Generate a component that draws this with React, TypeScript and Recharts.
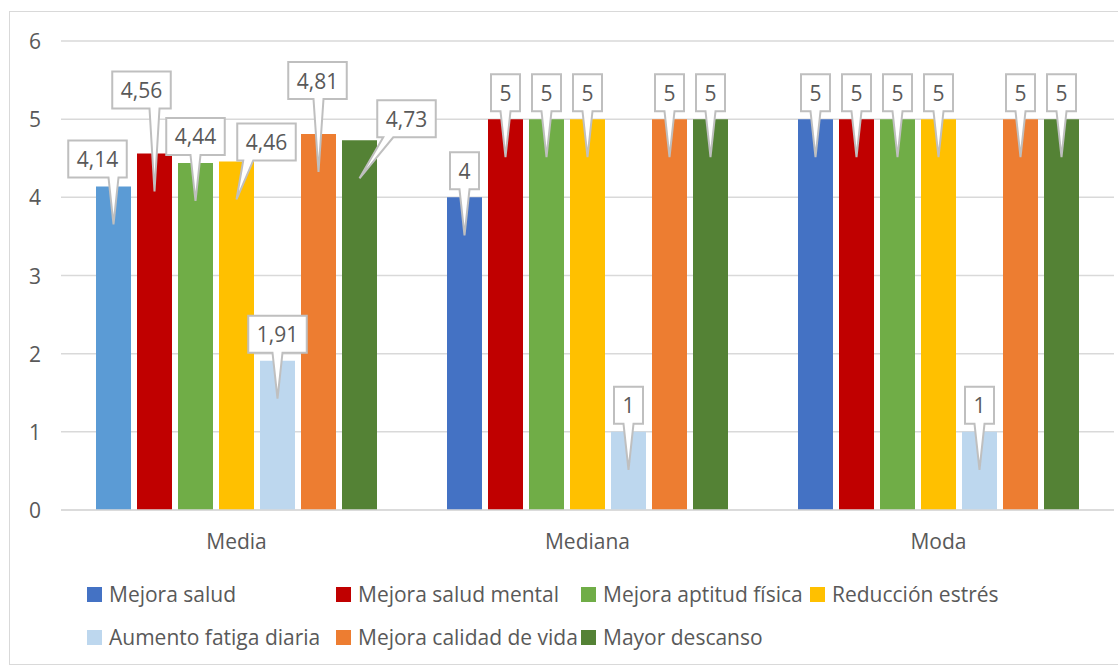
import { BarChart, Bar, XAxis, YAxis, CartesianGrid, LabelList, Cell } from 'recharts';

const categories = ['Media', 'Mediana', 'Moda'];
const seriesNames = [
  'Mejora salud',
  'Mejora salud mental',
  'Mejora aptitud física',
  'Reducción estrés',
  'Aumento fatiga diaria',
  'Mejora calidad de vida',
  'Mayor descanso',
];
const mejoraSalud = [4.14, 4, 5];
const mejoraSaludMental = [4.56, 5, 5];
const mejoraAptitudFisica = [4.44, 5, 5];
const reduccionEstres = [4.46, 5, 5];
const aumentoFatiga = [1.91, 1, 1];
const mejoraCalidadVida = [4.81, 5, 5];
const mayorDescanso = [4.73, 5, 5];
const yTicks = [0, 1, 2, 3, 4, 5, 6];

const seriesValues = [
  mejoraSalud,
  mejoraSaludMental,
  mejoraAptitudFisica,
  reduccionEstres,
  aumentoFatiga,
  mejoraCalidadVida,
  mayorDescanso,
];
const colors = ['#4472C4', '#C00000', '#70AD47', '#FFC000', '#BDD7EE', '#ED7D31', '#548235'];
// Excel gave the first "Media" bar its own lighter blue
const firstPointColor = '#5B9BD5';

const keys = seriesNames.map((_, i) => `s${i}`);
const data = categories.map((name, ci) => {
  const row: Record<string, any> = { name };
  seriesValues.forEach((vals, si) => {
    row[keys[si]] = vals[ci];
  });
  return row;
});

// callout box placement for the "Media" group (dx from bar centre, dy of box bottom from bar top)
const mediaCallout = [
  { dx: -16, dy: -9 },
  { dx: -13, dy: -45 },
  { dx: 0, dy: -8 },
  { dx: 30, dy: -1 },
  { dx: 0, dy: -8 },
  { dx: -1, dy: -35 },
  { dx: 47, dy: -3 },
];

const FONT = '"Open Sans", Calibri, sans-serif';
const TEXT = '#595959';
const GRID = '#D9D9D9';
const FS = 21;

const fmt = (v: number) => String(v).replace('.', ',');

function makeCallout(si: number) {
  return (props: any) => {
    const { x, y, width, value, index } = props;
    if (value == null) return null;
    const label = fmt(Number(value));
    const digits = label.replace(',', '').length;
    const commas = label.length - digits;
    const bw = digits * 12 + commas * 5.5 + 17;
    const bh = 37;
    const cx = Number(x) + Number(width) / 2;
    const top = Number(y);
    const off = index === 0 ? mediaCallout[si] : { dx: 0, dy: -8 };
    const bottom = top + off.dy;
    const left = cx + off.dx - bw / 2;
    const right = left + bw;
    const boxTop = bottom - bh;
    const tipX = cx;
    const tipY = top + 38;
    const baseC = Math.min(Math.max(tipX, left + 11), right - 11);
    const path = `M${left},${boxTop} H${right} V${bottom} H${baseC + 5} L${tipX},${tipY} L${baseC - 5},${bottom} H${left} Z`;
    return (
      <g>
        <path d={path} fill="#FFFFFF" stroke="#BFBFBF" strokeWidth={2} />
        <text
          x={(left + right) / 2}
          y={boxTop + bh / 2}
          textAnchor="middle"
          dominantBaseline="central"
          fontFamily={FONT}
          fontSize={FS}
          fill={TEXT}
        >
          {label}
        </text>
      </g>
    );
  };
}

const YTick = (props: any) => {
  const { payload } = props;
  return (
    <text x={35} y={payload.coordinate} textAnchor="middle" dominantBaseline="central" fontFamily={FONT} fontSize={FS} fill={TEXT}>
      {payload.value}
    </text>
  );
};

const XTick = (props: any) => {
  const { payload } = props;
  return (
    <text x={payload.coordinate} y={541} textAnchor="middle" dominantBaseline="central" fontFamily={FONT} fontSize={FS} fill={TEXT}>
      {payload.value}
    </text>
  );
};

const legendCols = [87, 336, 581, 810];
const legendRows = [594, 637];

function ChartLegend() {
  return (
    <>
      {seriesNames.map((n, i) => {
        const col = i < 4 ? i : i - 4;
        const row = i < 4 ? 0 : 1;
        return (
          <div
            key={n}
            style={{
              position: 'absolute',
              left: legendCols[col],
              top: legendRows[row] - 15,
              height: 30,
              display: 'flex',
              alignItems: 'center',
              whiteSpace: 'nowrap',
              fontFamily: FONT,
              fontSize: FS,
              color: TEXT,
            }}
          >
            <span style={{ width: 15, height: 15, background: colors[i], marginRight: 7, display: 'inline-block' }} />
            {n}
          </div>
        );
      })}
    </>
  );
}

export default function App() {
  return (
    <div style={{ position: 'fixed', left: 0, top: 0, width: 1118, height: 668, overflow: 'hidden', background: '#fff' }}>
      <div
        style={{
          position: 'absolute',
          left: 9,
          top: 11,
          width: 1120,
          height: 652,
          border: `1.5px solid ${GRID}`,
        }}
      />
      <div style={{ position: 'absolute', left: 0, top: 0 }}>
        <BarChart
          width={1118}
          height={668}
          data={data}
          margin={{ top: 41, right: 4, bottom: 128, left: 0 }}
          barGap={6}
          barCategoryGap={35}
        >
          <CartesianGrid vertical={false} stroke={GRID} strokeWidth={1.5} />
          <XAxis
            dataKey="name"
            height={30}
            axisLine={{ stroke: GRID, strokeWidth: 1.5 }}
            tickLine={false}
            tick={<XTick />}
          />
          <YAxis
            width={61}
            domain={[0, 6]}
            ticks={yTicks}
            axisLine={false}
            tickLine={false}
            tick={<YTick />}
          />
          {keys.map((k, si) => (
            <Bar key={k} dataKey={k} name={seriesNames[si]} fill={colors[si]} isAnimationActive={false}>
              {si === 0 &&
                data.map((_, ci) => <Cell key={ci} fill={ci === 0 ? firstPointColor : colors[0]} />)}
              <LabelList dataKey={k} content={makeCallout(si)} />
            </Bar>
          ))}
        </BarChart>
      </div>
      <ChartLegend />
    </div>
  );
}
